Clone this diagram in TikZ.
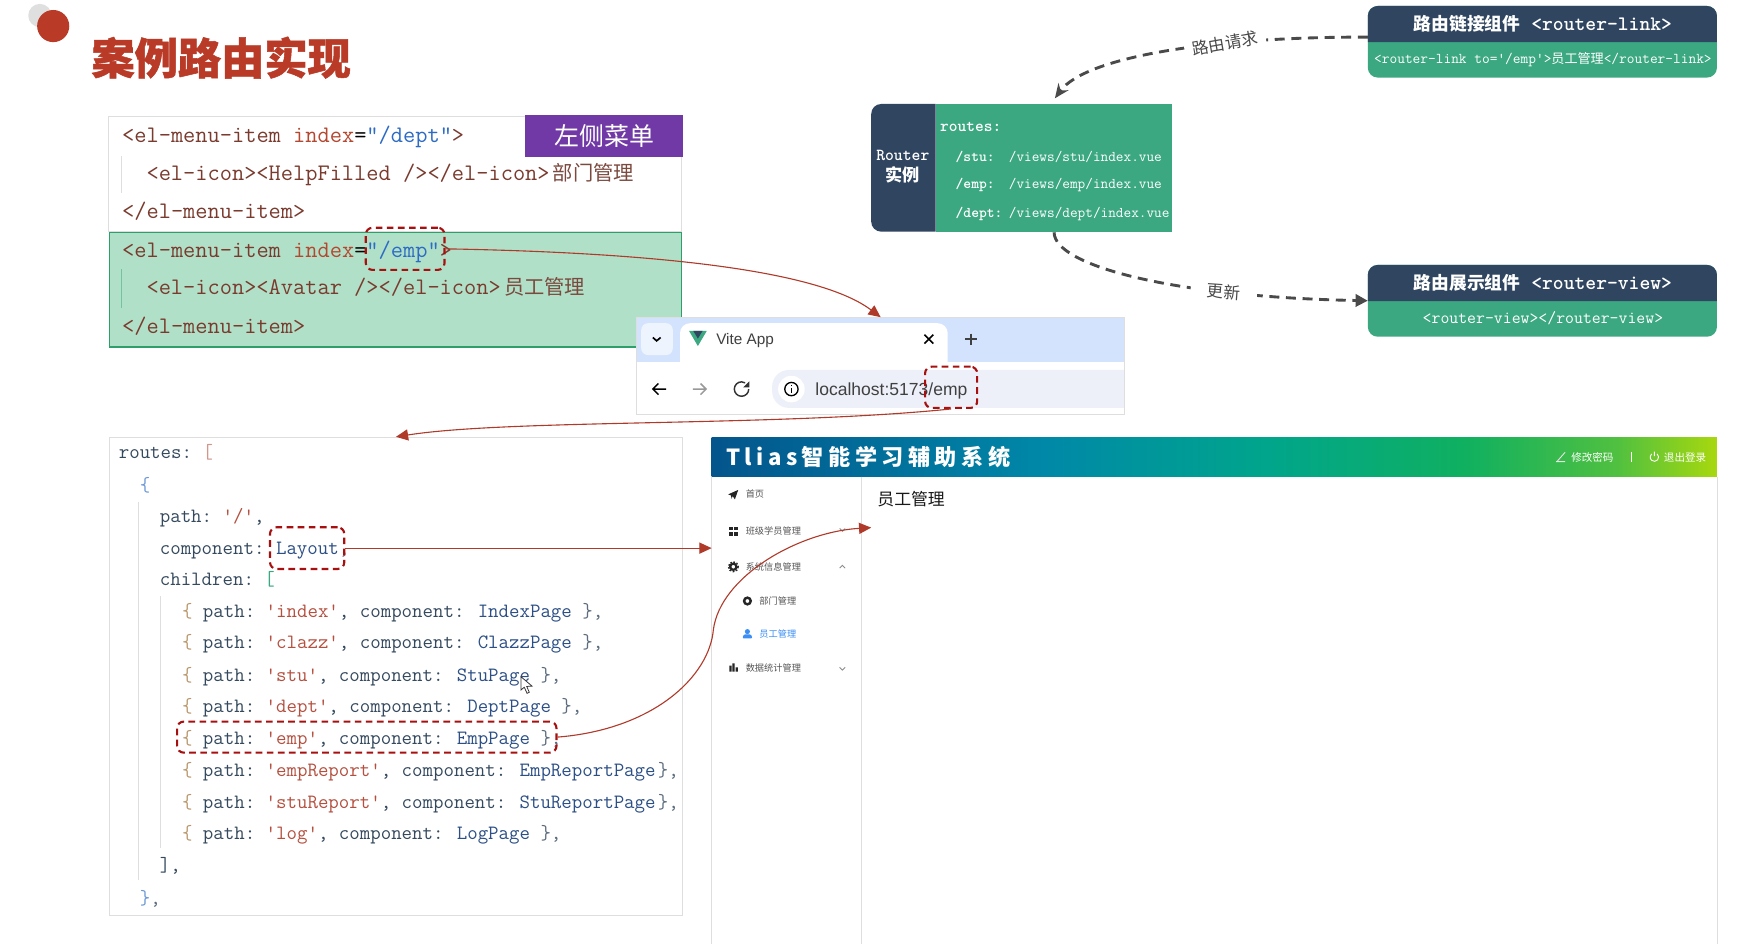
\documentclass[tikz,border=0pt]{standalone}
\usepackage{fontspec}
\usepackage{tikz}
\usetikzlibrary{arrows.meta}
\setmainfont{Liberation Sans}
\newfontfamily\cjk{Noto Sans CJK SC}
\newfontfamily\cjkwide[LetterSpace=20]{Noto Sans CJK SC}
\newfontfamily\cjkheavy[BoldFeatures={FakeBold=1.2}]{Noto Sans CJK SC}

\definecolor{navy}{HTML}{2F4560}
\definecolor{teal}{HTML}{3BA882}
\definecolor{titlered}{HTML}{B93A26}
\definecolor{dashred}{HTML}{A80F0F}
\definecolor{linkred}{HTML}{B03A2A}
\definecolor{darkline}{HTML}{4A4A4A}
\definecolor{hlgreen}{HTML}{B0E0C8}
\definecolor{hlborder}{HTML}{2E9E6B}
\definecolor{purplebox}{HTML}{7039A6}
\definecolor{framegray}{HTML}{DEDEDE}
\definecolor{tabblue}{HTML}{D3E3FD}
\definecolor{pillblue}{HTML}{EDF0F9}
\definecolor{tagc}{HTML}{7A3B2E}
\definecolor{attrc}{HTML}{B5472F}
\definecolor{strc}{HTML}{2D6BC4}
\definecolor{keyc}{HTML}{34495E}
\definecolor{qc}{HTML}{B5503F}
\definecolor{clsc}{HTML}{2C4F86}
\definecolor{bracec}{HTML}{B9976B}
\definecolor{barA}{HTML}{03558C}
\definecolor{barB}{HTML}{0088A8}
\definecolor{barC}{HTML}{00A58C}
\definecolor{barD}{HTML}{10B060}
\definecolor{barE}{HTML}{50C040}
\definecolor{barF}{HTML}{A8D80E}
\definecolor{menublue}{HTML}{3A8EF6}
\definecolor{menugray}{HTML}{555555}

\pgfdeclarehorizontalshading{dashbar}{100bp}{color(0bp)=(barA); color(25bp)=(barA); color(41.5bp)=(barB); color(52.5bp)=(barC); color(62.5bp)=(barD); color(70bp)=(barE); color(75bp)=(barF); color(100bp)=(barF)}

\newcommand{\sz}[1]{\fontsize{#1}{#1}\selectfont\frenchspacing}
\newcommand{\tg}[1]{\textcolor{tagc}{#1}}
\newcommand{\at}[1]{\textcolor{attrc}{#1}}
\newcommand{\st}[1]{\textcolor{strc}{#1}}
\newcommand{\ky}[1]{\textcolor{keyc}{#1}}
\newcommand{\qt}[1]{\textcolor{qc}{#1}}
\newcommand{\cl}[1]{\textcolor{clsc}{#1}}
\newcommand{\br}[1]{\textcolor{bracec}{#1}}
\newcommand{\cn}[2]{{\sz{#1}\cjk #2}}
\newcommand{\rline}[3]{\ky{path:} \qt{'#1'}\ky{,} \ky{component:}\kern2.5pt{} \cl{#2}#3}

\begin{document}
\begin{tikzpicture}[x=1pt,y=-1pt,
	code/.style={anchor=base west,inner sep=0,font=\ttfamily\sz{21.4}},
	route/.style={anchor=base west,inner sep=0,text=keyc!80,font=\ttfamily\sz{18.33}},
	compsub/.style={inner sep=0,text=white,font=\ttfamily\sz{13.5}},
	comphead/.style={inner sep=0,text=white,font=\ttfamily\bfseries\sz{18.6}},
	table/.style={anchor=base west,inner sep=0,text=white,font=\ttfamily\bfseries\sz{13.4}},
	dashbox/.style={draw=dashred,line width=1.9,dash pattern=on 6pt off 4pt,rounded corners=6,inner sep=0},
	redarrow/.style={draw=linkred,line width=1,-{Triangle[length=11pt,width=10pt,fill=linkred]}},
	darkarrow/.style={draw=darkline,line width=2.6,dash pattern=on 9pt off 6pt},
	arrowlabel/.style={inner ysep=2,fill=white,text=darkline,font=\cjk\sz{15}},
	menu/.style={anchor=west,inner sep=0,text=menugray,font=\cjk\sz{8.3}},
	topbar/.style={anchor=west,inner sep=0,text=white,font=\cjk\sz{9.5}}]

	\fill[white] (0,0) rectangle (1568,851.6);
	\useasboundingbox (0,0) rectangle (1568,851.6);

	\fill[gray!25] (36,14) circle (10.5);
	\fill[titlered] (48,23.5) circle (14.5);
	\node[inner sep=0,text=titlered,font=\cjkheavy\bfseries\sz{39}] (title) at (199.5,52) {案例路由实现};

	\node[draw=framegray,line width=1,fill=white,inner sep=0,minimum width=517,minimum height=104] (menubox) at (356.5,157) {};
	\node[draw=hlborder,line width=1,fill=hlgreen,inner sep=0,minimum width=516.5,minimum height=103.5] (empmenu) at (356.7,261.3) {};
	\node[fill=purplebox,text=white,inner sep=0,minimum width=142,minimum height=37.5,font=\cjk\sz{22.5}] (menutag) at (545,122.7) {左侧菜单};
	\draw[framegray,line width=1] (110,141) -- (110,174);
	\draw[hlborder!45!hlgreen,line width=1] (110,243) -- (110,278);

	\node[code] (m1) at (110,129) {\tg{<el-menu-item} \at{index}=\st{"/dept"}\tg{>}};
	\node[code] (m2) at (132,163) {\tg{<el-icon><HelpFilled /></el-icon>}\textcolor{tagc!80!gray}{\kern3pt\cn{18.3}{部门管理}}};
	\node[code] (m3) at (110,197) {\tg{</el-menu-item>}};
	\node[code] (m4) at (110,232) {\tg{<el-menu-item} \at{index}=\st{"/emp"}\tg{>}};
	\node[code] (m5) at (132,266) {\tg{<el-icon><Avatar /></el-icon>}\textcolor{tagc!80!gray}{\kern3pt\cn{18.3}{员工管理}}};
	\node[code] (m6) at (110,301) {\tg{</el-menu-item>}};
	\node[dashbox,minimum width=71,minimum height=38] (empindex) at (365.5,224.5) {};

	\node[draw=framegray,line width=1,fill=white,inner sep=0,minimum width=440,minimum height=87.5] (browser) at (794.5,330.4) {};
	\fill[tabblue] (575,287) rectangle (1014,326.8);
	\fill[white,rounded corners=9] (613.5,291.6) rectangle (855,340);
	\fill[white] (600,327) rectangle (870,332);
	\fill[tabblue!40!white,rounded corners=6] (578.5,291.6) rectangle (607,320.3);
	\draw[line width=1.5] (589,304.5) -- (592.4,307.5) -- (596,304.5);
	\fill[teal] (621.7,298.6) -- (637.6,298.6) -- (629.6,312.2) -- cycle;
	\fill[navy] (625.5,298.6) -- (633.8,298.6) -- (629.6,305.5) -- cycle;
	\node[anchor=west,inner sep=0,text=black!75,font=\sz{13.8}] (tabname) at (646,307.5) {Vite App};
	\draw[line width=1.5] (834,302) -- (842,310) (834,310) -- (842,302);
	\draw[black!75,line width=1.4] (871,306) -- (881,306) (876,301) -- (876,311);
	\fill[white] (575,327) rectangle (1014,373);
	\draw[line width=1.3] (601,351) -- (589,351) (594,346) -- (589,351) -- (594,356);
	\draw[black!40,line width=1.3] (625,351) -- (637,351) (632,346) -- (637,351) -- (632,356);
	\draw[black!80,line width=1.3] (675.5,351) arc[start angle=0,end angle=-300,radius=6.5pt];
	\fill[black!80] (676,344) -- (676,349.5) -- (670.5,349.5) -- cycle;
	\fill[pillblue,rounded corners=15] (696.6,333.8) rectangle (1030,368);
	\fill[white] (1014.5,333) rectangle (1040,369);
	\draw[framegray,line width=1] (1014.5,287) -- (1014.5,374);
	\fill[white] (714,351) circle (12);
	\draw[line width=1.2] (714,351) circle (6);
	\draw[line width=1.3] (714,350) -- (714,354.5) (714,347) -- (714,348.2);
	\node[anchor=west,inner sep=0,text=black!75,font=\sz{15.8}] (address) at (735.5,352.7) {localhost:5173/emp};
	\node[dashbox,minimum width=47,minimum height=37.2] (empurl) at (858.1,349.4) {};

	\node[draw=framegray,line width=1,fill=white,inner sep=0,minimum width=517.6,minimum height=431] (routesbox) at (357.2,610.1) {};
	\draw[framegray,line width=1] (124.6,452.6) -- (124.6,794);
	\draw[framegray,line width=1] (144.8,538) -- (144.8,765);
	\node[route] (r1) at (107,413.5) {\ky{routes:} \textcolor{qc!60}{[}};
	\node[route] (r2) at (126,443) {\textcolor{strc!70}{\{}};
	\node[route] (r3) at (144,471.5) {\ky{path:} \qt{'/'}\ky{,}};
	\node[route] (r4) at (144,500.5) {\ky{component:}\kern1pt{} \cl{Layout},};
	\node[route] (r5) at (144,528.5) {\ky{children:} \textcolor{teal}{[}};
	\node[route] (r6) at (164,557.5) {\br{\{} \rline{index}{IndexPage}{ \}},};
	\node[route] (r7) at (164,585.5) {\br{\{} \rline{clazz}{ClazzPage}{ \}},};
	\node[route] (r8) at (164,614.5) {\br{\{} \rline{stu}{StuPage}{ \}},};
	\node[route] (r9) at (164,642.5) {\br{\{} \rline{dept}{DeptPage}{ \}},};
	\node[route] (r10) at (164,671.5) {\br{\{} \rline{emp}{EmpPage}{ \}},};
	\node[route] (r11) at (164,700.5) {\br{\{} \rline{empReport}{EmpReportPage}{\kern2pt\}},};
	\node[route] (r12) at (164,729.5) {\br{\{} \rline{stuReport}{StuReportPage}{\kern2pt\}},};
	\node[route] (r13) at (164,757.5) {\br{\{} \rline{log}{LogPage}{ \}},};
	\node[route] (r14) at (144,786.5) {\ky{],}};
	\node[route] (r15) at (126,816) {\textcolor{strc!70}{\}},};
	\node[dashbox,minimum width=67,minimum height=37.6] (layoutref) at (277.1,494.5) {};
	\node[dashbox,minimum width=342.3,minimum height=28] (empref) at (330.9,665) {};
	\filldraw[fill=white,draw=black!80,line width=.7] (470,610.5) -- (470,622.5) -- (473,620) -- (475.5,625.5) -- (477.5,624.5) -- (475.2,619.3) -- (480,619) -- cycle;

	\node[shade,shading=dashbar,inner sep=0,minimum width=907,minimum height=35] (dashhead) at (1095.5,412.1) {};
	\node[anchor=west,inner sep=0,text=white,font=\cjkwide\bfseries\sz{20}] (dashname) at (655,412) {Tlias智能学习辅助系统};
	\draw[white!90!black,line width=.8] (1405,416) -- (1412,408) (1404,416.5) -- (1412,416.5);
	\node[topbar] (pwd) at (1417.4,412.6) {修改密码};
	\draw[white,line width=.9] (1471.5,408) -- (1471.5,417);
	\draw[white,line width=.8] (1495,409.5) arc[start angle=50,end angle=-230,radius=3.8pt] (1492.5,407.5) -- (1492.5,411.5);
	\node[topbar] (logout) at (1501,412.6) {退出登录};
	\draw[framegray,line width=1] (642,430) -- (642,851.6);
	\draw[framegray,line width=1.2] (777,430) -- (777,851.6);
	\draw[framegray,line width=.8] (1549,430) -- (1549,851.6);

	\fill[black!85] (657,446) -- (666,442) -- (663,450.5) -- (661,447.5) -- (660,450) -- (659.5,447) -- cycle;
	\node[menu] (mhome) at (672.6,446) {首页};
	\foreach \gx in {658,662.6} \foreach \gy in {475,479.6} \fill[black!85] (\gx,\gy) rectangle ++(3.6,3.6);
	\node[menu] (mclass) at (672.6,479) {班级学员管理};
	\draw[black!85,line width=2] (661.6,511.3) circle (2.8);
	\draw[black!85,line width=1.3,dash pattern=on 1.5pt off 1.4pt] (661.6,511.3) circle (4.4);
	\node[menu] (msys) at (672.6,511.5) {系统信息管理};
	\draw[black!85,line width=2.2] (674.3,542.2) circle (3);
	\node[menu] (mdept) at (685,542.5) {部门管理};
	\fill[menublue] (674.3,569.8) circle (2.3);
	\fill[menublue,rounded corners=1] (669.8,576) -- (671,572.4) -- (677.6,572.4) -- (678.8,576) -- cycle;
	\node[menu,text=menublue] (memp) at (685,572) {员工管理};
	\fill[black!85] (658,600.5) rectangle (660,606) (660.8,598.5) rectangle (662.8,606) (663.6,602) rectangle (665.6,606);
	\node[menu] (mstat) at (672.6,603) {数据统计管理};
	\draw[black!45,line width=.8] (757.5,476.8) -- (760,479.3) -- (762.5,476.8);
	\draw[black!45,line width=.8] (757.5,512.5) -- (760,510) -- (762.5,512.5);
	\draw[black!45,line width=.8] (757.5,602) -- (760,604.5) -- (762.5,602);
	\node[inner sep=0,text=black!90,font=\cjk\sz{15.2}] (emptitle) at (822,450.5) {员工管理};

	\coordinate (layouttip) at (642,494.5);
	\coordinate (emptip) at (786,476);
	\coordinate (empbend) at (643.6,568);
	\draw[redarrow] (empindex.east) .. controls (600,228) and (740,245) .. (browser.north);
	\draw[redarrow] (empurl.south) .. controls (700,385) and (460,378) .. (routesbox.north);
	\draw[redarrow] (layoutref.east) -- (layouttip);
	\draw[redarrow] (empref.east) .. controls (590,658) and (640,610) .. (empbend) .. controls (650,520) and (720,480) .. (emptip);

	\fill[navy] (844,93.8) -- (795,93.8) arc[start angle=90,end angle=180,radius=9pt] -- (786,200) arc[start angle=180,end angle=270,radius=9pt] -- (844,209) -- cycle;
	\node[fill=teal,inner sep=0,minimum width=213.5,minimum height=115.2,anchor=north west] (routerbody) at (843.9,93.8) {};
	\node[inner sep=0,text=white,font=\ttfamily\bfseries\sz{15.2}] (routername) at (814.5,140) {Router};
	\node[inner sep=0,text=white,font=\cjk\bfseries\sz{15.5}] (routercn) at (814,158) {实例};
	\node[table,font=\ttfamily\bfseries\sz{15}] (rt0) at (848,118.5) {routes:};
	\node[table] (rt1) at (862,145.5) {/stu:};
	\node[table] (rt2) at (862,170.5) {/emp:};
	\node[table] (rt3) at (862,196.5) {/dept:};
	\node[table,font=\ttfamily\sz{13.4}] (rp1) at (910,145.5) {/views/stu/index.vue};
	\node[table,font=\ttfamily\sz{13.4}] (rp2) at (910,170.5) {/views/emp/index.vue};
	\node[table,font=\ttfamily\sz{13.4}] (rp3) at (910,196.5) {/views/dept/index.vue};

	\fill[teal,rounded corners=9] (1234,5.4) rectangle (1549,70);
	\fill[navy] (1234,38) -- (1234,14.4) arc[start angle=180,end angle=90,radius=9pt] -- (1540,5.4) arc[start angle=90,end angle=0,radius=9pt] -- (1549,38) -- cycle;
	\node[comphead] (linkhead) at (1392,21.5) {\cn{16}{\bfseries 路由链接组件}\hspace{10pt}<router-link>};
	\node[compsub] (linkbody) at (1392,53.5) {<router-link to='/emp'>\cn{11.8}{员工管理}</router-link>};

	\fill[teal,rounded corners=9] (1234,239) rectangle (1549,303.8);
	\fill[navy] (1234,271.6) -- (1234,248) arc[start angle=180,end angle=90,radius=9pt] -- (1540,239) arc[start angle=90,end angle=0,radius=9pt] -- (1549,271.6) -- cycle;
	\coordinate (viewtip) at (1234,271.3);
	\node[comphead] (viewhead) at (1392,255.5) {\cn{16}{\bfseries 路由展示组件}\hspace{10pt}<router-view>};
	\node[compsub,font=\ttfamily\sz{15.6}] (viewbody) at (1392,287) {<router-view></router-view>};

	\coordinate (linkstart) at (1234,33.5);
	\coordinate (routertip) at (951.7,88.7);
	\coordinate (routerstart) at (951,209.6);
	\draw[darkarrow,-{Stealth[length=13pt,width=11pt]}] (linkstart) .. controls (1100,33) and (980,50) .. (routertip) node[arrowlabel,inner xsep=7,pos=.34,rotate=10] (reqlabel) {路由请求};
	\draw[darkarrow,-{Triangle[length=11pt,width=11pt]}] (routerstart) .. controls (951,240) and (1060,268) .. (viewtip) node[arrowlabel,inner xsep=15,pos=.72,rotate=-4] (updlabel) {更新};
\end{tikzpicture}
\end{document}
